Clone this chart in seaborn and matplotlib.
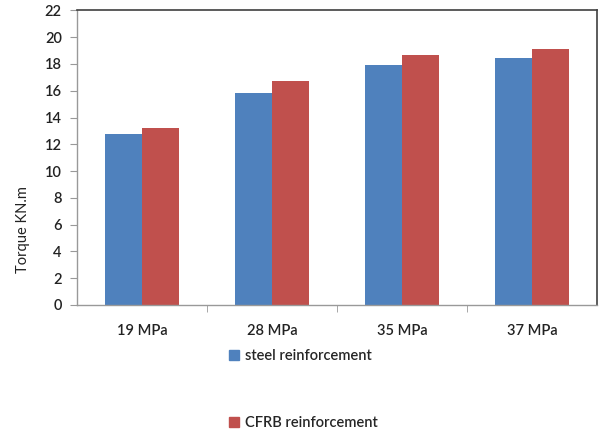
import pandas as pd
import matplotlib
matplotlib.use("Agg")
import matplotlib.pyplot as plt
import seaborn as sns
from matplotlib.patches import Patch

# Data
grades = ['19 MPa', '28 MPa', '35 MPa', '37 MPa']
steel = [12.8, 15.85, 17.95, 18.45]
cfrb = [13.2, 16.7, 18.65, 19.15]
series = ['steel reinforcement', 'CFRB reinforcement']
colors = ['#4F81BD', '#C0504D']

df = pd.DataFrame({
    'grade': grades * 2,
    'torque': steel + cfrb,
    'type': [series[0]] * len(grades) + [series[1]] * len(grades),
})

sns.set_style("white")
plt.rcParams['font.family'] = ['Lato', 'DejaVu Sans']
plt.rcParams['font.weight'] = 'semibold'

fig = plt.figure(figsize=(6.02, 4.32), dpi=100)
ax = fig.add_axes([0.128, 0.294, 0.864, 0.682])

sns.barplot(data=df, x='grade', y='torque', hue='type', palette=colors,
            width=0.57, gap=0, saturation=1, linewidth=0, ax=ax, legend=False)

ax.set_ylim(0, 22)
ax.set_yticks(range(0, 23, 2))
ax.set_xlim(-0.5, len(grades) - 0.5)
ax.set_xlabel('')
ax.set_ylabel('Torque KN.m', fontsize=10.5, color='#222222')
ax.yaxis.set_label_coords(-0.09, 0.255)

# category separators as ticks, labels centred
ax.set_xticks([i + 0.5 for i in range(len(grades) - 1)], minor=True)
ax.tick_params(axis='x', which='major', length=0, pad=14, labelsize=10.5, labelcolor='#222222')
ax.tick_params(axis='x', which='minor', length=5, color='#999999', direction='out', bottom=True)
ax.tick_params(axis='y', length=5, color='#999999', direction='out', left=True,
               labelsize=10.5, labelcolor='#222222', pad=6)

for side in ['left', 'bottom']:
    ax.spines[side].set_color('#999999')
    ax.spines[side].set_linewidth(1)
for side in ['top', 'right']:
    ax.spines[side].set_color('#404040')
    ax.spines[side].set_linewidth(1.2)

handles = [Patch(facecolor=c, edgecolor=c) for c in colors]
fig.legend(handles, series, loc='upper left', bbox_to_anchor=(0.37, 0.205),
           frameon=False, fontsize=10.5, handlelength=0.7, handleheight=0.7,
           handletextpad=0.4, labelspacing=3.6, borderaxespad=0)

fig.savefig('out.png', dpi=100)
